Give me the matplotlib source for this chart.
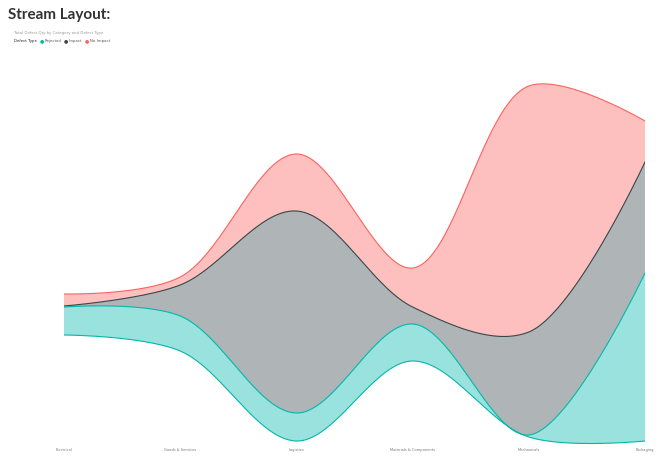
import numpy as np
import matplotlib
matplotlib.use("Agg")
import matplotlib.pyplot as plt

# data (stream layout, y axis hidden)
categories = ["Electrical", "Goods & Services", "Logistics",
              "Materials & Components", "Mechanicals", "Packaging"]
rejected = [28, 35, 28, 37, 2, 168]
impact = [1, 31, 202, 17, 103, 111]
no_impact = [12, 8, 57, 39, 246, 41]
# lower edge of the stream at each category (stream offset)
stream_base = [106, 90, 0, 80, 4, 0]

series_names = ["Rejected", "Impact", "No Impact"]
line_colors = ["#01B8AA", "#374649", "#FD625E"]

fig = plt.figure(figsize=(6.67, 4.6), dpi=100)
ax = fig.add_axes([64 / 667, (460 - 446) / 460, 581 / 667, 366 / 460])
ax.set_xlim(0, len(categories) - 1)
ax.set_ylim(-4, 362)


def catmull_rom(xv, yv, alpha=0.5, n=60):
    # centripetal catmull-rom worked out in screen space (like d3 curveCatmullRom)
    pts = ax.transData.transform(np.column_stack([xv, yv]))
    k = len(pts)
    out = [pts[0]]
    for i in range(k - 1):
        p1, p2 = pts[i], pts[i + 1]
        l12 = np.hypot(*(p2 - p1)) ** alpha
        c1, c2 = p1.copy(), p2.copy()
        if i > 0:
            p0 = pts[i - 1]
            l01 = np.hypot(*(p1 - p0)) ** alpha
            a = 2 * l01**2 + 3 * l01 * l12 + l12**2
            nn = 3 * l01 * (l01 + l12)
            c1 = (p1 * a - p0 * l12**2 + p2 * l01**2) / nn
        if i + 2 < k:
            p3 = pts[i + 2]
            l23 = np.hypot(*(p3 - p2)) ** alpha
            b = 2 * l23**2 + 3 * l23 * l12 + l12**2
            m = 3 * l23 * (l23 + l12)
            c2 = (p2 * b + p1 * l23**2 - p3 * l12**2) / m
        t = np.linspace(0, 1, n)[1:, None]
        seg = ((1 - t)**3 * p1 + 3 * (1 - t)**2 * t * c1
               + 3 * (1 - t) * t**2 * c2 + t**3 * p2)
        out.extend(seg)
    out = ax.transData.inverted().transform(np.array(out))
    return out[:, 0], out[:, 1]


xi = np.arange(len(categories))
layers = [rejected, impact, no_impact]
edges = [np.array(stream_base, float)]
for v in layers:
    edges.append(edges[-1] + np.array(v, float))

curves = [catmull_rom(xi, e) for e in edges]

# fills
for i in range(3):
    bx, by = curves[i]
    tx, ty = curves[i + 1]
    ax.fill(np.concatenate([tx, bx[::-1]]), np.concatenate([ty, by[::-1]]),
            color=line_colors[i], alpha=0.4, linewidth=0)
# outlines: top down so lower layers win on shared edges
ax.plot(*curves[3], color=line_colors[2], lw=0.8)
ax.plot(*curves[2], color=line_colors[1], lw=0.8)
ax.plot(*curves[1], color=line_colors[0], lw=0.8)
ax.plot(*curves[0], color=line_colors[0], lw=0.8)

ax.set_xlim(0, len(categories) - 1)
ax.set_ylim(-4, 362)
ax.set_xticks(xi)
ax.set_xticklabels(categories, fontsize=2.6, color="#777777")
ax.tick_params(axis="x", length=0, pad=1.2)
ax.set_yticks([])
for s in ax.spines.values():
    s.set_visible(False)

fig.text(8 / 667, 1 - 15 / 460, "Stream Layout:", fontsize=11, fontweight="bold",
         family="Lato", color="#333333", va="center", ha="left")
fig.text(14 / 667, 1 - 33 / 460, "Total Defect Qty by Category and Defect Type",
         fontsize=2.8, color="#999999", va="center", ha="left")

# legend row
ly = 1 - 41 / 460
fig.text(14 / 667, ly, "Defect Type", fontsize=2.8, color="#222222",
         va="center", ha="left")
dot_x = [42, 66, 87]
for lx, name, c in zip(dot_x, series_names, line_colors):
    fig.text(lx / 667, ly, "\u25CF", fontsize=3.6, color=c, va="center", ha="center")
    fig.text((lx + 3) / 667, ly, name, fontsize=2.8, color="#555555",
             va="center", ha="left")

fig.savefig("out.png", dpi=100)
